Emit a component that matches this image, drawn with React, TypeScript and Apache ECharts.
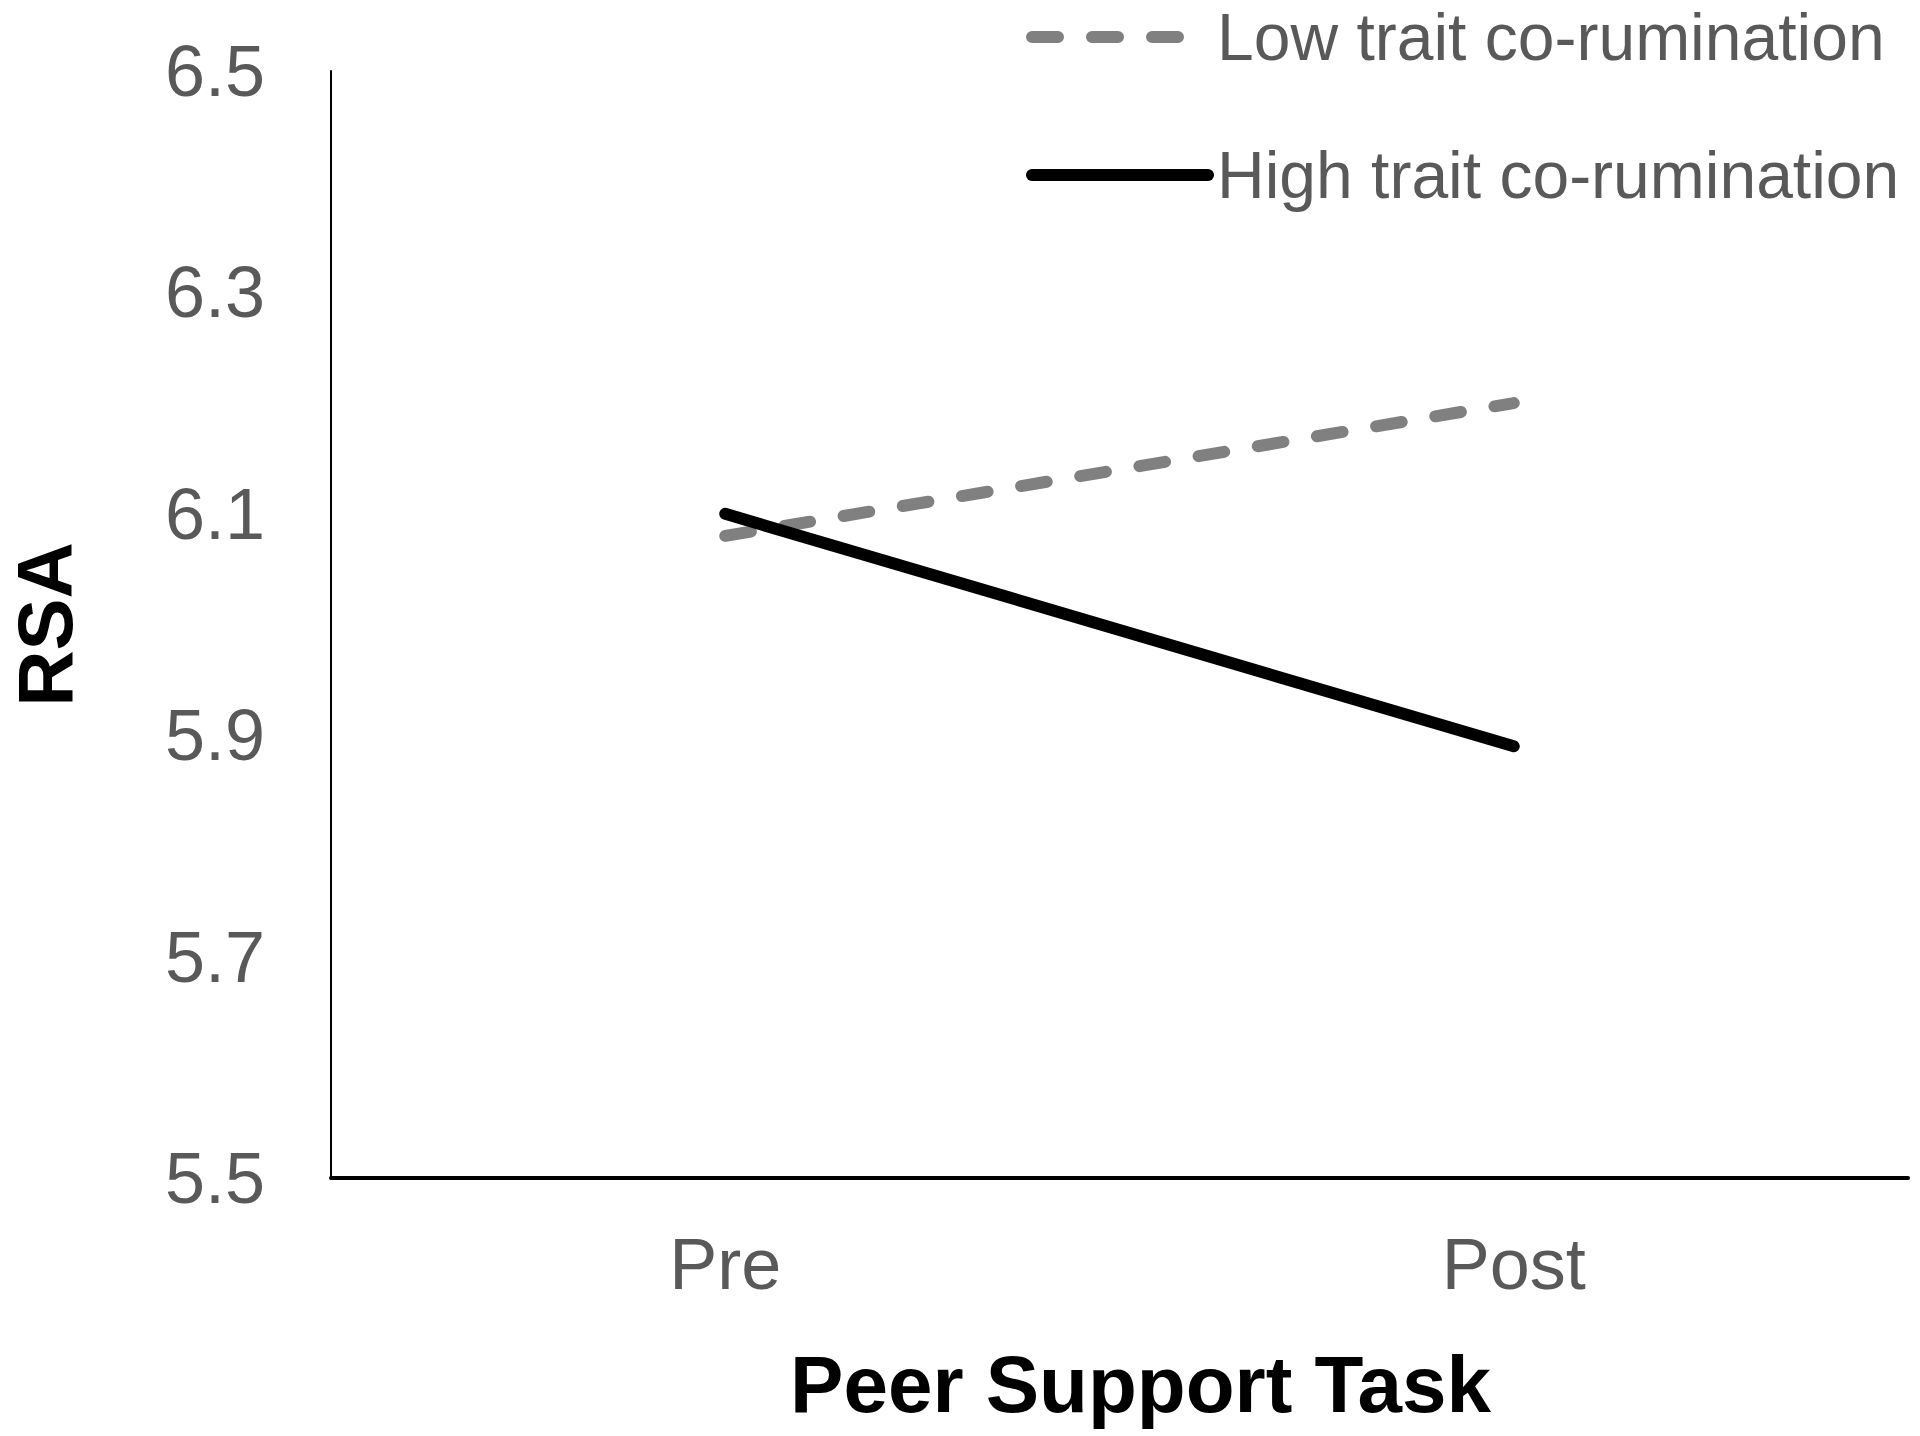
import React, { useEffect, useRef } from "react";
import * as echarts from "echarts";

const categories = ["Pre", "Post"];
const lowTrait = [6.08, 6.2];
const highTrait = [6.1, 5.89];
const seriesNames = ["Low trait co-rumination", "High trait co-rumination"];
const yTicks = { min: 5.5, max: 6.5, interval: 0.2 };

export default function App() {
  const ref = useRef<HTMLDivElement>(null);
  useEffect(() => {
    const chart = echarts.init(ref.current!, null, { renderer: "svg" });
    const font = "'Liberation Sans', Arial, sans-serif";
    chart.setOption({
      animation: false,
      backgroundColor: "#ffffff",
      textStyle: { fontFamily: font },
      grid: {
        left: 331,
        right: 12,
        top: 71,
        bottom: 258,
        containLabel: false,
        outerBoundsMode: "none",
      },
      legend: {
        orient: "vertical",
        left: 1026,
        top: 4,
        padding: 0,
        itemWidth: 176,
        itemHeight: 20,
        itemGap: 72,
        textStyle: { fontSize: 66, color: "#595959", fontFamily: font, padding: [0, 0, 0, 4] },
        itemStyle: { opacity: 0 },
        lineStyle: { width: 12, cap: "round" },
        data: seriesNames,
      },
      xAxis: {
        type: "category",
        data: categories,
        boundaryGap: true,
        axisLine: { show: true, lineStyle: { color: "#000", width: 4 } },
        axisTick: { show: false },
        axisLabel: { margin: 50, fontSize: 72, color: "#595959", fontFamily: font },
        name: "Peer Support Task",
        nameLocation: "middle",
        nameGap: 166,
        nameTextStyle: {
          fontSize: 80,
          fontWeight: "bold",
          color: "#000",
          fontFamily: font,
          padding: [0, 0, 0, 42],
        },
        splitLine: { show: false },
      },
      yAxis: {
        type: "value",
        min: yTicks.min,
        max: yTicks.max,
        interval: yTicks.interval,
        axisLine: { show: true, lineStyle: { color: "#000", width: 2 } },
        axisTick: { show: false },
        splitLine: { show: false },
        axisLabel: {
          margin: 66,
          fontSize: 72,
          color: "#595959",
          fontFamily: font,
          padding: [0, 0, 10, 0],
          formatter: (v: number) => v.toFixed(1),
        },
        name: "RSA",
        nameLocation: "middle",
        nameGap: 247,
        nameTextStyle: { fontSize: 78, fontWeight: "bold", color: "#000", fontFamily: font },
      },
      series: [
        {
          name: seriesNames[0],
          type: "line",
          data: lowTrait,
          symbol: "none",
          lineStyle: { color: "#808080", width: 12, type: [26, 34], cap: "round" },
          itemStyle: { color: "#808080" },
        },
        {
          name: seriesNames[1],
          type: "line",
          data: highTrait,
          symbol: "none",
          lineStyle: { color: "#000000", width: 12, type: "solid", cap: "round" },
          itemStyle: { color: "#000000" },
        },
      ],
    });
    return () => chart.dispose();
  }, []);
  return (
    <div
      ref={ref}
      style={{ position: "absolute", left: 0, top: 0, width: 1920, height: 1436 }}
    />
  );
}
